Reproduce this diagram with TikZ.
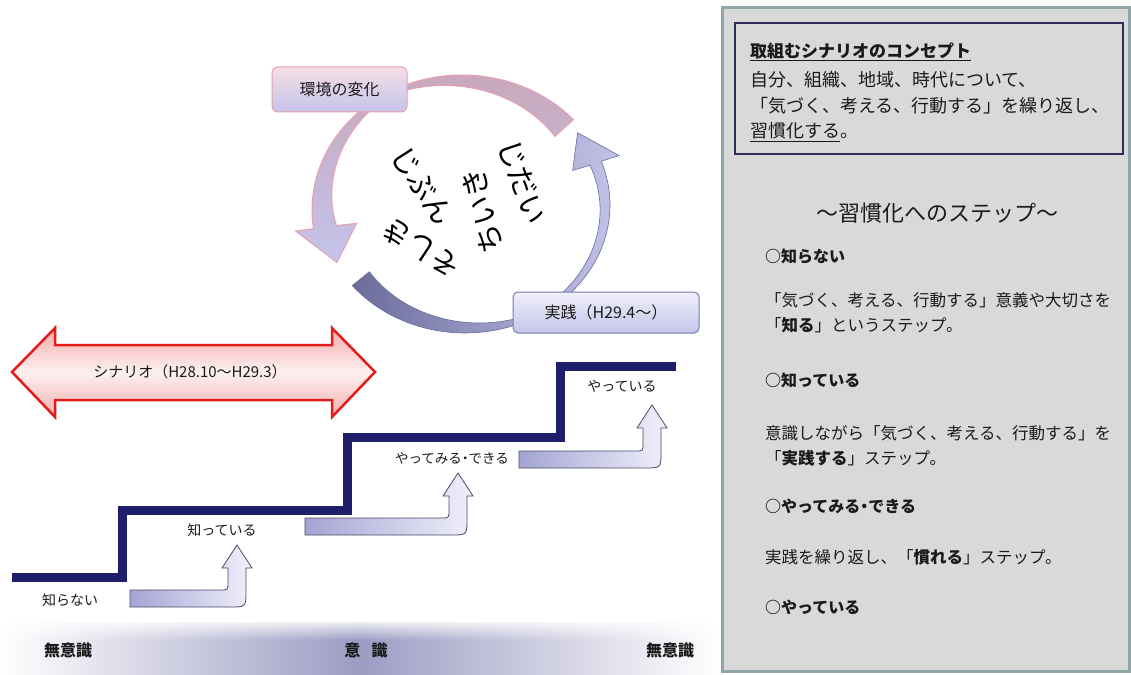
\documentclass[tikz,border=0pt]{standalone}
\usepackage{fontspec}
\setmainfont{Noto Sans CJK JP}
\usetikzlibrary{fadings}
\definecolor{panelgray}{HTML}{D9D9D9}
\definecolor{panelborder}{HTML}{8FA5A8}
\definecolor{boxnavy}{HTML}{2E2A5C}
\definecolor{stairnavy}{HTML}{1E1E6A}
\definecolor{txt}{HTML}{1A1A1A}
\definecolor{lav}{HTML}{C4C4EA}
\definecolor{lavlight}{HTML}{F0F0FB}
\definecolor{lavdark}{HTML}{6C6C9C}
\definecolor{lavbd}{HTML}{6A6AA0}
\definecolor{pinkbd}{HTML}{E8A0B0}
\definecolor{pinktop}{HTML}{C8A8BC}
\definecolor{pinkbox}{HTML}{F6DDE6}
\definecolor{redbd}{HTML}{E31C1C}
\definecolor{redfill}{HTML}{F2ACAC}
\definecolor{redmid}{HTML}{FDF0F0}
\definecolor{barmid}{HTML}{9C9CC4}
\definecolor{arrbd}{HTML}{4A4A6A}
\definecolor{arrleft}{HTML}{A4A4D4}
\definecolor{jbd}{HTML}{7878A8}
\newcommand\bentarr[8]{%
  \draw[bentarrow] (#1,#2) -- ({#4-8},#2) .. controls (#4,#2) .. (#4,{#2-8})
    -- (#4,#6) -- ({#4-#8},#6) -- ({(#4+#5)/2},#7) -- ({#5+#8},#6) -- (#5,#6)
    -- (#5,{#3-16}) .. controls (#5,#3) .. ({#5-16},#3) -- (#1,#3) -- cycle;}
\begin{document}
\begin{tikzpicture}[x=1pt,y=-1pt,
  lbl/.style={font=\fontsize{14}{16}\selectfont, text=txt, inner sep=0pt},
  ptxt/.style={font=\fontsize{16.5}{19}\selectfont, text=txt, anchor=west, inner sep=0pt},
  pitem/.style={font=\bfseries\fontsize{16}{19}\selectfont, text=txt, anchor=west, inner sep=0pt},
  ctxt/.style={font=\fontsize{18}{21}\selectfont, text=txt, anchor=west, inner sep=0pt},
  circtext/.style={font=\fontsize{29}{31}\selectfont, text=black, inner sep=0pt},
  bentarrow/.style={draw=arrbd, line width=0.8pt, left color=arrleft, right color=lavlight},
  ]
\useasboundingbox (0,0) rectangle (1131,674);
\fill[white] (0,0) rectangle (1131,674);

% ---------- right panel ----------
\draw[fill=panelgray, draw=panelborder, line width=3pt] (722,8) rectangle (1129,671);
\draw[fill=panelgray, draw=boxnavy, line width=2pt] (735,23) rectangle (1123,154);
\node[ctxt, font=\bfseries\fontsize{17}{20}\selectfont] (c1) at (750,52) {\underline{取組むシナリオのコンセプト}};
\node[ctxt] (c2) at (750,80) {自分、組織、地域、時代について、};
\node[ctxt] (c3) at (750,106) {「気づく、考える、行動する」を繰り返し、};
\node[ctxt] (c4) at (750,132) {\underline{習慣化する}。};

\node[font=\fontsize{22}{25}\selectfont, text=txt, inner sep=0pt] (st) at (937,213) {～習慣化へのステップ～};
\node[pitem] (i1) at (765,256) {○知らない};
\node[ptxt] (t1a) at (765,300) {「気づく、考える、行動する」意義や大切さを};
\node[ptxt] (t1b) at (765,325) {「\textbf{知る}」というステップ。};
\node[pitem] (i2) at (765,380) {○知っている};
\node[ptxt] (t2a) at (765,433) {意識しながら「気づく、考える、行動する」を};
\node[ptxt] (t2b) at (765,458) {「\textbf{実践する}」ステップ。};
\node[pitem] (i3) at (765,506) {○やってみる{\kern-0.25em}・{\kern-0.25em}できる};
\node[ptxt] (t3a) at (765,557) {実践を繰り返し、「\textbf{慣れる}」ステップ。};
\node[pitem] (i4) at (765,607) {○やっている};

% ---------- bottom bar ----------
\shade[left color=white, right color=white, middle color=barmid] (0,622) rectangle (718,674);
\fill[white, path fading=south] (0,618) rectangle (718,640);
\node[font=\bfseries\fontsize{16}{18}\selectfont, text=txt] (m1) at (68,650) {無意識};
\node[font=\bfseries\fontsize{16}{18}\selectfont, text=txt] (m2) at (366,650) {意\hspace{0.7em}識};
\node[font=\bfseries\fontsize{16}{18}\selectfont, text=txt] (m3) at (670,650) {無意識};

% ---------- cycle arrows ----------
\def\bcx{465}\def\bcy{205}\def\brx{145}\def\bry{128}
\path[draw=lavbd, line width=0.6pt, left color=lavdark, right color=lav]
  plot[domain=141:-20, samples=70, variable=\t] ({\bcx+\brx*cos(\t)},{\bcy+\bry*sin(\t)})
  -- ({\bcx+1.13*\brx*cos(-20)},{\bcy+1.13*\bry*sin(-20)})
  -- ({\bcx+0.96*\brx*cos(-36)},{\bcy+0.96*\bry*sin(-36)})
  -- ({\bcx+0.79*\brx*cos(-20)},{\bcy+0.79*\bry*sin(-20)})
  -- plot[domain=-20:141, samples=70, variable=\t]
     ({\bcx+(\brx-max(4+18*(\t-60)/81,4+8*(60-\t)/80))*cos(\t)},{\bcy+(\bry-max(4+18*(\t-60)/81,4+8*(60-\t)/80))*sin(\t)})
  -- cycle;

\def\pcx{462}\def\pcy{210}\def\prx{150}\def\pry{135}
\path[draw=pinkbd, line width=1pt, top color=pinktop, bottom color=lav]
  plot[domain=318:172, samples=70, variable=\t] ({\pcx+\prx*cos(\t)},{\pcy+\pry*sin(\t)})
  -- ({\pcx+1.12*\prx*cos(172)},{\pcy+1.12*\pry*sin(172)})
  -- ({\pcx+0.92*\prx*cos(155)},{\pcy+0.92*\pry*sin(155)})
  -- ({\pcx+0.71*\prx*cos(172)},{\pcy+0.71*\pry*sin(172)})
  -- plot[domain=172:318, samples=70, variable=\t]
     ({\pcx+(\prx-3-max(22*(\t-240)/78,22*(240-\t)/74))*cos(\t)},{\pcy+(\pry-3-max(22*(\t-240)/78,22*(240-\t)/74))*sin(\t)})
  -- cycle;

\node[draw=pinkbd, line width=1pt, rounded corners=6pt, top color=pinkbox, bottom color=lav,
      minimum width=135pt, minimum height=45pt, font=\fontsize{16}{18}\selectfont, text=txt] (env) at (339.5,89.5) {環境の変化};
\node[draw=jbd, line width=1pt, rounded corners=5pt, top color=lavlight, bottom color=lav,
      minimum width=186pt, minimum height=41pt, font=\fontsize{16}{18}\selectfont, text=txt] (jis) at (606,312.5) {実践（H29.4～）};

\node[circtext, rotate=-70] (w1) at (522,182) {じだい};
\node[circtext, rotate=104] (w2) at (483,211) {ちいき};
\node[circtext, rotate=-56] (w3) at (422,186) {じぶん};
\node[circtext, rotate=148] (w4) at (421,248) {そしき};

% ---------- scenario double arrow ----------
\path[draw=redbd, line width=2.5pt, line join=miter, top color=redfill, bottom color=redfill, middle color=redmid]
  (12,372) -- (55,328) -- (55,345) -- (332,345) -- (332,328) -- (375,372)
  -- (332,417) -- (332,400) -- (55,400) -- (55,417) -- cycle;
\node[font=\fontsize{15}{17}\selectfont, text=txt] (scn) at (190,372) {シナリオ（H28.10～H29.3）};

% ---------- staircase ----------
\draw[stairnavy, line width=9pt, line join=miter]
  (12,577) -- (122,577) -- (122,510) -- (347,510) -- (347,437) -- (560,437) -- (560,366) -- (676,366);

\bentarr{130}{590}{607}{228}{246}{568}{545}{6}
\bentarr{305}{518}{535}{449}{467}{496}{473}{6}
\bentarr{519}{451}{468}{643}{661}{428}{405}{6}

\node[lbl] (s1) at (70,600) {知らない};
\node[lbl] (s2) at (222,530) {知っている};
\node[lbl, font=\fontsize{13.5}{16}\selectfont] (s3) at (452,458) {やってみる{\kern-0.25em}・{\kern-0.25em}できる};
\node[lbl] (s4) at (622,386) {やっている};
\end{tikzpicture}
\end{document}
